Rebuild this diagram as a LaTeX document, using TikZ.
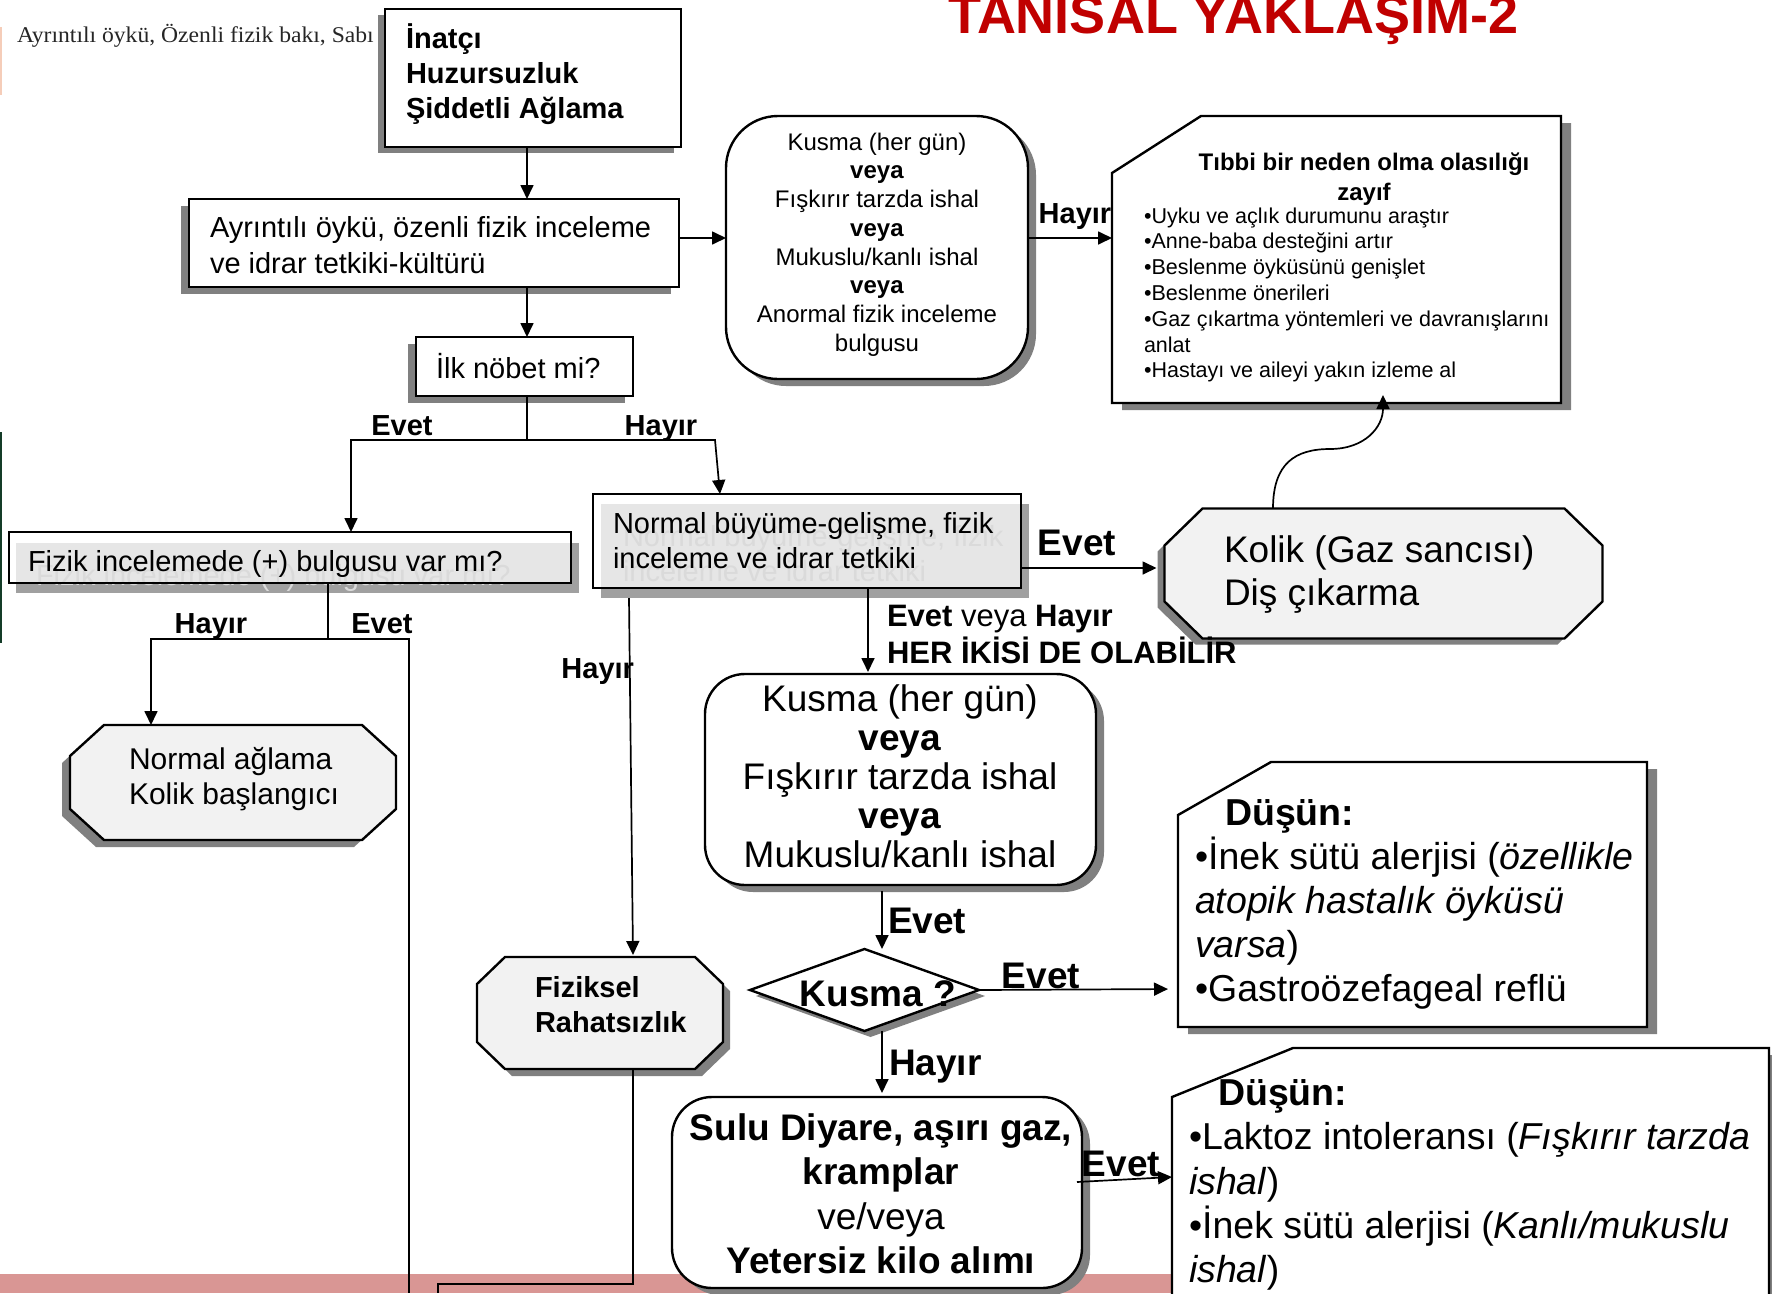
\documentclass[tikz,border=0pt]{standalone}
\usepackage{fontspec}
\setmainfont{Liberation Sans}
\newfontfamily\serifA[FakeStretch=1.05]{Liberation Serif}
\usetikzlibrary{calc,arrows.meta}
\pgfdeclarelayer{bandL}
\pgfdeclarelayer{shadL}
\pgfdeclarelayer{shapeL}
\pgfsetlayers{bandL,shadL,shapeL,main}
\definecolor{shc}{RGB}{128,128,128}
\definecolor{octf}{RGB}{242,242,242}
\definecolor{grayin}{RGB}{230,230,230}
\definecolor{grayout}{RGB}{160,160,160}
\definecolor{ghost}{RGB}{218,218,218}
\definecolor{titlered}{RGB}{192,0,0}
\definecolor{bandc}{RGB}{217,150,148}
\definecolor{leftg}{RGB}{20,60,40}
\definecolor{leftp}{RGB}{245,205,185}
\newcommand\fsz[2]{\fontsize{#1pt}{#2pt}\selectfont}
\newcommand\octo[6]{%
 \path[#1] ($(#2.north west)+(#3+#5,#6)$) -- ($(#2.north east)+(-#3+#5,#6)$)
  -- ($(#2.north east)+(#5,#4+#6)$) -- ($(#2.south east)+(#5,-#4+#6)$)
  -- ($(#2.south east)+(-#3+#5,#6)$) -- ($(#2.south west)+(#3+#5,#6)$)
  -- ($(#2.south west)+(#5,-#4+#6)$) -- ($(#2.north west)+(#5,#4+#6)$) -- cycle;}
\newcommand\snip[6]{%
 \path[#1] ($(#2.north west)+(#3+#5,#6)$) -- ($(#2.north east)+(#5,#6)$)
  -- ($(#2.south east)+(#5,#6)$) -- ($(#2.south west)+(#5,#6)$)
  -- ($(#2.north west)+(#5,#4+#6)$) -- cycle;}
\newcommand\diam[4]{%
 \path[#1] ($(#2.west)+(#3,#4)$) -- ($(#2.north)+(#3,#4)$) -- ($(#2.east)+(#3,#4)$) -- ($(#2.south)+(#3,#4)$) -- cycle;}
\begin{document}
\begin{tikzpicture}[x=1pt,y=-1pt,
  frame/.style={draw=none, fill=none, inner sep=0pt, outer sep=0pt},
  txt/.style={inner sep=0pt, outer sep=0pt},
  bx/.style={draw=black, line width=2.4pt, fill=white},
  conn/.style={draw=black, line width=1.7pt},
  arr/.style={conn, -{Triangle[length=14pt,width=13pt]}},
  lbl/.style={txt, font=\fsz{29}{35}\bfseries},
  lblL/.style={txt, font=\fsz{37}{44}\bfseries},
]
\clip (0,0) rectangle (1772,1293);

% ---------- box nodes ----------
\node[frame, minimum width=296pt, minimum height=138pt] (top) at (533,78) {};
\node[frame, minimum width=490pt, minimum height=88pt] (ayr) at (434,243) {};
\node[frame, minimum width=217pt, minimum height=59pt] (ilk) at (524.5,366.5) {};
\node[frame, minimum width=302pt, minimum height=263pt] (kt) at (877,247.5) {};
\node[frame, minimum width=449pt, minimum height=287pt] (tib) at (1336.5,259.5) {};
\node[frame, minimum width=562pt, minimum height=51pt] (fiz) at (290,557.5) {};
\node[frame, minimum width=428pt, minimum height=94pt] (nb) at (807,541) {};
\node[frame, minimum width=438pt, minimum height=130pt] (kol) at (1383.5,573.5) {};
\node[frame, minimum width=326pt, minimum height=115pt] (na) at (233,782.5) {};
\node[frame, minimum width=246pt, minimum height=112pt] (fzk) at (600,1013) {};
\node[frame, minimum width=391pt, minimum height=211pt] (kl) at (900.5,779.5) {};
\node[frame, minimum width=229pt, minimum height=82pt] (dk) at (864.5,990) {};
\node[frame, minimum width=469pt, minimum height=265pt] (d1) at (1412.5,894.5) {};
\node[frame, minimum width=410pt, minimum height=191pt] (su) at (877,1192.5) {};
\node[frame, minimum width=597pt, minimum height=300pt] (d2) at (1470.5,1198) {};

% ---------- background band, left marks, subtitle ----------
\begin{pgfonlayer}{bandL}
 \fill[white] (0,0) rectangle (1772,1293);
 \fill[bandc] (0,1274) rectangle (1772,1293);
 \fill[leftg] (0,432) rectangle (2,643);
 \fill[leftp] (0,27) rectangle (2,95);
 \node[txt, anchor=base west, font=\serifA\fsz{22.5}{27}, text=black!85] (sub) at (17,42) {Ayrıntılı öykü, Özenli fizik bakı, Sabı};
\end{pgfonlayer}

% ---------- shadows ----------
\begin{pgfonlayer}{shadL}
 \fill[shc] ($(top.north west)+(-7,6)$) rectangle ($(top.south east)+(-7,6)$);
 \fill[shc] ($(ayr.north west)+(-8,7)$) rectangle ($(ayr.south east)+(-8,7)$);
 \fill[shc] ($(ilk.north west)+(-8,7)$) rectangle ($(ilk.south east)+(-8,7)$);
 \fill[shc, rounded corners=52pt] ($(kt.north west)+(8,7)$) rectangle ($(kt.south east)+(8,7)$);
 \snip{fill=shc}{tib}{89}{57}{10}{7}
 \fill[grayout] ($(fiz.north west)+(7,11)$) rectangle ($(fiz.south east)+(8,10)$);
 \fill[grayout] ($(nb.north west)+(8,10)$) rectangle ($(nb.south east)+(8,10)$);
 \octo{fill=shc}{kol}{38}{37}{-7}{6}
 \octo{fill=shc}{na}{34}{31}{-8}{7}
 \octo{fill=shc}{fzk}{28}{27}{7}{7}
 \fill[shc, rounded corners=40pt] ($(kl.north west)+(8,7)$) rectangle ($(kl.south east)+(8,7)$);
 \diam{fill=shc}{dk}{6}{6}
 \snip{fill=shc}{d1}{93}{53}{10}{7}
 \fill[shc, rounded corners=40pt] ($(su.north west)+(8,7)$) rectangle ($(su.south east)+(8,7)$);
 \snip{fill=shc}{d2}{121}{49}{10}{7}
\end{pgfonlayer}

% ---------- shapes ----------
\begin{pgfonlayer}{shapeL}
 \draw[bx] (top.north west) rectangle (top.south east);
 \draw[bx] (ayr.north west) rectangle (ayr.south east);
 \draw[bx] (ilk.north west) rectangle (ilk.south east);
 \draw[bx, rounded corners=52pt] (kt.north west) rectangle (kt.south east);
 \snip{bx}{tib}{89}{57}{0}{0}
 \fill[grayin] ($(fiz.north west)+(7,11)$) rectangle (fiz.south east);
 \node[txt, anchor=west, font=\fsz{29}{35}, text=ghost] (fizG) at (36,578) {Fizik incelemede (+) bulgusu var mı?};
 \draw[bx, fill=none] (fiz.north west) rectangle (fiz.south east);
 \fill[grayin] ($(nb.north west)+(8,10)$) rectangle (nb.south east);
 \node[txt, anchor=west, align=left, font=\fsz{29}{35}, text=ghost] (nbG) at (623,554) {Normal büyüme-gelişme, fizik\\inceleme ve idrar tetkiki};
 \draw[bx, fill=none] (nb.north west) rectangle (nb.south east);
 \octo{bx, fill=octf}{kol}{38}{37}{0}{0}
 \octo{bx, fill=octf}{na}{34}{31}{0}{0}
 \octo{bx, fill=octf}{fzk}{28}{27}{0}{0}
 \draw[bx, rounded corners=40pt] (kl.north west) rectangle (kl.south east);
 \diam{bx}{dk}{0}{0}
 \snip{bx}{d1}{93}{53}{0}{0}
 \draw[bx, rounded corners=40pt] (su.north west) rectangle (su.south east);
 \snip{bx}{d2}{121}{49}{0}{0}
\end{pgfonlayer}

% ---------- title ----------
\node[txt, anchor=base west, font=\fsz{54}{60}\bfseries, text=titlered] (title) at (948,33) {TANISAL YAKLAŞIM-2};

% ---------- texts ----------
\node[txt, anchor=west, align=left, font=\fsz{29}{35}\bfseries] (topT) at (406,74) {İnatçı\\Huzursuzluk\\Şiddetli Ağlama};
\node[txt, anchor=west, align=left, font=\fsz{29}{36}] (ayrT) at (210,245) {Ayrıntılı öykü, özenli fizik inceleme\\ve idrar tetkiki-kültürü};
\node[txt, anchor=west, font=\fsz{29}{35}] (ilkT) at (436,366) {İlk nöbet mi?};
\node[txt, align=center, font=\fsz{24}{28.7}] (ktT) at (877,244.5) {Kusma (her gün)\\\textbf{veya}\\Fışkırır tarzda ishal\\\textbf{veya}\\Mukuslu/kanlı ishal\\\textbf{veya}\\Anormal fizik inceleme\\bulgusu};
\node[txt, align=center, font=\fsz{24}{29.5}\bfseries] (tibT) at (1364,179) {Tıbbi bir neden olma olasılığı\\zayıf};
\node[txt, anchor=west, align=left, font=\fsz{21.5}{25.8}] (tibB) at (1144,295) {•Uyku ve açlık durumunu araştır\\•Anne-baba desteğini artır\\•Beslenme öyküsünü genişlet\\•Beslenme önerileri\\•Gaz çıkartma yöntemleri ve davranışlarını\\anlat\\•Hastayı ve aileyi yakın izleme al};
\node[txt, anchor=west, font=\fsz{29}{35}] (fizT) at (28,564) {Fizik incelemede (+) bulgusu var mı?};
\node[txt, anchor=west, align=left, font=\fsz{29}{35}] (nbT) at (613,541) {Normal büyüme-gelişme, fizik\\inceleme ve idrar tetkiki};
\node[txt, anchor=west, align=left, font=\fsz{37}{43}] (kolT) at (1224,575) {Kolik (Gaz sancısı)\\Diş çıkarma};
\node[txt, anchor=west, align=left, font=\fsz{30}{35}] (naT) at (129,779) {Normal ağlama\\Kolik başlangıcı};
\node[txt, anchor=west, align=left, font=\fsz{29}{35}\bfseries] (fzkT) at (535,1005) {Fiziksel\\Rahatsızlık};
\node[txt, align=center, font=\fsz{37}{39}] (klT) at (900,776) {Kusma (her gün)\\\textbf{veya}\\Fışkırır tarzda ishal\\\textbf{veya}\\Mukuslu/kanlı ishal};
\node[txt, font=\fsz{37}{44}\bfseries] (dkT) at (878,994) {Kusma ?};
\node[txt, anchor=west, align=left, font=\fsz{37.5}{44}] (d1T) at (1195,904) {\hspace*{30pt}\textbf{Düşün:}\\•İnek sütü alerjisi (\textit{özellikle}\\\textit{atopik hastalık öyküsü}\\\textit{varsa})\\•Gastroözefageal reflü};
\node[txt, align=center, font=\fsz{37}{44.5}] (suT) at (881,1194) {\textbf{Sulu Diyare, aşırı gaz,}\\\textbf{kramplar}\\ve/veya\\\textbf{Yetersiz kilo alımı}};
\node[txt, anchor=west, align=left, font=\fsz{37.5}{44.3}] (d2T) at (1189,1185) {\hspace*{29pt}\textbf{Düşün:}\\•Laktoz intoleransı (\textit{Fışkırır tarzda}\\\textit{ishal})\\•İnek sütü alerjisi (\textit{Kanlı/mukuslu}\\\textit{ishal})};

% ---------- coordinates ----------
\coordinate (c527) at (527,0);
\coordinate (r238) at (0,238);
\coordinate (c351) at (351,0);
\coordinate (c715) at (715,0);
\coordinate (c720) at (720,0);
\coordinate (r568) at (0,568);
\coordinate (c868) at (868,0);
\coordinate (nbH) at (629,598);
\coordinate (c633) at (633,0);
\coordinate (c328) at (328,0);
\coordinate (c151) at (151,0);
\coordinate (eBot) at (409,1293);
\coordinate (fB) at (438,1293);
\coordinate (r1284) at (0,1284);
\coordinate (c882) at (882,0);
\coordinate (r989) at (0,989);
\coordinate (r1182) at (0,1182);
\coordinate (r1177) at (0,1177);
\coordinate (c1273) at (1273,0);
\coordinate (c1383) at (1383,0);
\coordinate (kmid) at (1330,449);

% ---------- connectors ----------
\draw[arr] (top.south -| c527) -- (ayr.north -| c527);
\draw[arr] (ayr.south -| c527) -- (ilk.north -| c527);
\draw[arr] (ayr.east |- r238) -- (kt.west |- r238);
\draw[arr] (kt.east |- r238) -- (tib.west |- r238);
\draw[conn] (ilk.south -| c527) -- ++(0,44) coordinate (jI);
\draw[arr] (jI) -| (fiz.north -| c351);
\draw[arr] (jI) -- (jI -| c715) -- (nb.north -| c720);
\draw[arr, shorten >=8pt] (nb.east |- r568) -- (kol.west |- r568);
\draw[arr, shorten >=2pt] (nb.south -| c868) -- (kl.north -| c868);
\draw[arr, shorten >=2pt] (nbH) -- (fzk.north -| c633);
\draw[conn] (fiz.south -| c328) -- ++(0,56) coordinate (jF);
\draw[arr] (jF) -| (na.north -| c151);
\draw[conn] (jF) -| (eBot);
\draw[conn] (fzk.south -| c633) |- (fB |- r1284) -- (fB);
\draw[arr, shorten <=6pt] (kl.south -| c882) -- (dk.north -| c882);
\draw[arr, shorten >=10pt] (dk.east) -- (d1.west |- r989);
\draw[arr, shorten >=4pt] (dk.south -| c882) -- (su.north -| c882);
\draw[arr] ($(su.east |- r1182)+(-5,0)$) -- (d2.west |- r1177);
\draw[arr] (kol.north -| c1273) .. controls +(0,-45) and +(-35,0) .. (kmid) .. controls +(35,0) and +(0,32) .. ($(tib.south -| c1383)+(0,-8)$);

% ---------- labels ----------
\node[lbl, anchor=base] (lE1) at (402,435) {Evet};
\node[lbl, anchor=base] (lH1) at (661,435) {Hayır};
\node[lbl, anchor=base] (lH0) at (1075,223) {Hayır};
\node[lbl, anchor=base] (lH2) at (211,633) {Hayır};
\node[lbl, anchor=base] (lE2) at (382,633) {Evet};
\node[lbl, anchor=base east] (lH3) at (634,678) {Hayır};
\node[lblL, anchor=base] (lE3) at (1077,555) {Evet};
\node[txt, anchor=base west, font=\fsz{31}{37}] (lEH) at (887,626) {\textbf{Evet} veya \textbf{Hayır}};
\node[txt, anchor=base west, font=\fsz{31}{37}\bfseries] (lHER) at (887,663) {HER İKİSİ DE OLABİLİR};
\node[lblL, anchor=base west] (lE4) at (888,933) {Evet};
\node[lblL, anchor=base] (lE5) at (1041,988) {Evet};
\node[lblL, anchor=base west] (lH4) at (889,1075) {Hayır};
\node[lblL, anchor=base] (lE6) at (1121,1176) {Evet};
\end{tikzpicture}
\end{document}
